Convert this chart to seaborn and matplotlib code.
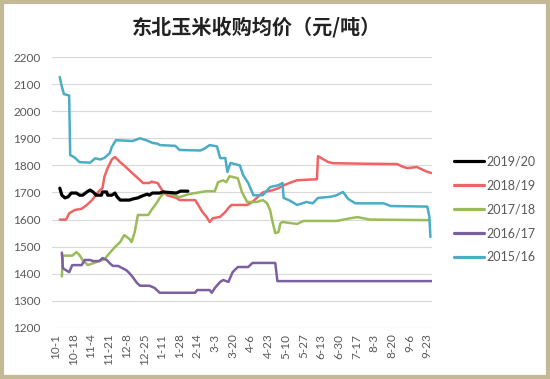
import pandas as pd
import matplotlib.pyplot as plt
import seaborn as sns
from matplotlib.patches import Rectangle

sns.set_style("white")
plt.rcParams['font.family'] = ['Lato', 'DejaVu Sans']

# day offsets from 10-1 and prices (yuan/ton)
days_1920 = [4, 6, 9, 12, 15, 20, 23, 26, 30, 33, 36, 39, 44, 45, 49, 50, 54, 57, 59, 62,
             71, 74, 79, 83, 88, 90, 93, 100, 103, 116, 120, 127]
price_1920 = [1716, 1690, 1680, 1684, 1698, 1698, 1690, 1690, 1702, 1709, 1702, 1690, 1690, 1702,
              1702, 1690, 1690, 1698, 1684, 1672, 1672, 1676, 1680, 1687, 1694, 1690, 1698, 1698,
              1702, 1698, 1705, 1705]

days_1819 = [4, 10, 13, 18, 25, 30, 35, 40, 43, 45, 47, 50, 54, 57, 62, 68, 74, 79, 84, 90, 92,
             98, 102, 107, 116, 119, 134, 137, 141, 145, 148, 151, 158, 163, 166, 169, 184, 189,
             194, 199, 209, 214, 220, 228, 232, 251, 252, 257, 262, 267, 300, 328, 334, 338, 347,
             357, 361]
price_1819 = [1600, 1600, 1623, 1635, 1640, 1654, 1672, 1698, 1710, 1716, 1760, 1790, 1822, 1831,
              1812, 1792, 1770, 1753, 1735, 1735, 1740, 1735, 1710, 1690, 1680, 1672, 1672, 1654,
              1628, 1610, 1591, 1605, 1610, 1628, 1643, 1654, 1654, 1665, 1683, 1700, 1709, 1716,
              1728, 1740, 1745, 1749, 1834, 1823, 1812, 1808, 1806, 1805, 1794, 1790, 1794, 1776,
              1772]

days_1718 = [6, 7, 16, 20, 23, 26, 31, 36, 42, 47, 52, 57, 62, 66, 71, 73, 76, 79, 89, 92, 97,
             100, 103, 107, 119, 128, 145, 153, 156, 161, 164, 167, 175, 179, 184, 193, 199, 203,
             206, 208, 211, 214, 216, 218, 232, 238, 270, 283, 290, 302, 358]
price_1718 = [1390, 1467, 1467, 1480, 1469, 1450, 1432, 1439, 1447, 1454, 1477, 1499, 1517, 1543,
              1528, 1517, 1554, 1617, 1617, 1635, 1661, 1680, 1694, 1698, 1683, 1694, 1705, 1705,
              1738, 1745, 1738, 1760, 1753, 1701, 1665, 1665, 1672, 1661, 1635, 1598, 1550, 1554,
              1587, 1591, 1584, 1595, 1595, 1605, 1609, 1600, 1598]

days_1617 = [6, 7, 10, 13, 16, 25, 28, 33, 36, 42, 45, 49, 52, 55, 60, 64, 68, 71, 74, 78, 81,
             90, 95, 100, 134, 136, 148, 150, 153, 158, 161, 166, 170, 175, 185, 189, 211, 213, 361]
price_1617 = [1478, 1421, 1413, 1406, 1432, 1432, 1451, 1451, 1447, 1447, 1458, 1451, 1439, 1429,
              1429, 1421, 1413, 1402, 1388, 1367, 1356, 1356, 1348, 1330, 1330, 1340, 1340, 1330,
              1348, 1370, 1377, 1370, 1406, 1425, 1425, 1440, 1440, 1373, 1373]

days_1516 = [4, 6, 8, 13, 14, 18, 23, 33, 38, 43, 47, 52, 54, 58, 74, 81, 87, 93, 98, 100, 115,
             119, 139, 143, 148, 155, 158, 163, 165, 168, 177, 180, 185, 190, 199, 206, 214, 218,
             219, 225, 232, 241, 247, 252, 264, 270, 276, 281, 288, 315, 322, 357, 359, 360]
price_1516 = [2126, 2090, 2063, 2058, 1838, 1830, 1812, 1810, 1826, 1822, 1828, 1845, 1868, 1893,
              1890, 1900, 1893, 1883, 1880, 1875, 1872, 1857, 1855, 1862, 1875, 1870, 1827, 1827,
              1776, 1809, 1800, 1765, 1735, 1690, 1690, 1720, 1727, 1735, 1680, 1670, 1654, 1665,
              1660, 1680, 1684, 1690, 1702, 1676, 1660, 1660, 1650, 1648, 1610, 1536]

seasons = ['2019/20', '2018/19', '2017/18', '2016/17', '2015/16']
colors = ['#000000', '#EE6462', '#9BBB59', '#7B5FA0', '#4BACC6']

tick_days = [0, 17, 34, 51, 68, 85, 102, 119, 136, 153, 170, 187, 204, 221, 238, 255, 272,
             289, 306, 323, 340, 357]
tick_labels = ['10-1', '10-18', '11-4', '11-21', '12-8', '12-25', '1-11', '1-28', '2-14', '3-3',
               '3-20', '4-6', '4-23', '5-10', '5-27', '6-13', '6-30', '7-17', '8-3', '8-20',
               '9-6', '9-23']

all_days = [days_1920, days_1819, days_1718, days_1617, days_1516]
all_prices = [price_1920, price_1819, price_1718, price_1617, price_1516]
frames = []
for s, d, p in zip(seasons, all_days, all_prices):
    frames.append(pd.DataFrame({'day': d, 'price': p, 'season': s}))
data = pd.concat(frames, ignore_index=True)

fig = plt.figure(figsize=(5.5, 3.79), dpi=100)
ax = fig.add_axes([0.0945, 0.1346, 0.6909, 0.715])

sns.lineplot(data=data, x='day', y='price', hue='season', hue_order=seasons,
             palette=dict(zip(seasons, colors)), estimator=None, sort=False,
             linewidth=1.8, ax=ax)

# black on top, thicker
for line, s in zip(ax.lines, seasons):
    if s == '2019/20':
        line.set_linewidth(2.3)
        line.set_zorder(5)

ax.set_xlim(-3.5, 361.5)
ax.set_ylim(1200, 2200)
ax.set_yticks(range(1200, 2201, 100))
ax.set_xticks(tick_days)
ax.set_xticklabels(tick_labels, rotation=90)
ax.tick_params(axis='both', length=0, labelsize=8.5, labelcolor='#595959')
ax.tick_params(axis='y', pad=8)
ax.tick_params(axis='x', pad=4)
ax.grid(axis='y', color='#D9D9D9', linewidth=0.8)
ax.set_axisbelow(True)
for sp in ax.spines.values():
    sp.set_visible(False)
ax.set_xlabel('')
ax.set_ylabel('')

leg = ax.legend(loc='center left', bbox_to_anchor=(0.826, 0.448),
                bbox_transform=fig.transFigure, frameon=False, fontsize=9,
                handlelength=2.4, handletextpad=0.15, labelspacing=0.95,
                borderpad=0, borderaxespad=0)
for t in leg.get_texts():
    t.set_color('#595959')
for h in leg.legend_handles:
    h.set_linewidth(2.3)

fig.text(0.467, 0.928, '东北玉米收购均价（元/吨）', ha='center', va='center',
         fontsize=14.5, fontweight='bold', family=['Noto Sans CJK SC', 'DejaVu Sans'],
         color='#222222')

fig.patches.append(Rectangle((0.003, 0.004), 0.993, 0.99, transform=fig.transFigure,
                             fill=False, edgecolor='#C3B994', linewidth=3))

fig.savefig('out.png', dpi=100)
